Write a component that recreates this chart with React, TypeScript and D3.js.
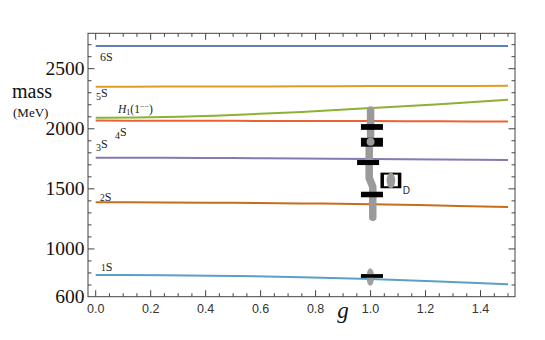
import React from "react";
import * as d3 from "d3";

const gGrid = [0, 0.25, 0.5, 0.75, 1.0, 1.25, 1.5];
const s6S = [2688, 2688, 2688, 2688, 2688, 2688, 2688];
const s5S = [2350, 2351, 2352, 2353, 2355, 2356, 2358];
const sH1 = [2092, 2098, 2115, 2140, 2172, 2205, 2241];
const s4S = [2068, 2067, 2066, 2065, 2064, 2062, 2060];
const s3S = [1759, 1758, 1756, 1753, 1749, 1744, 1740];
const s2S = [1388, 1387, 1384, 1379, 1372, 1361, 1349];
const s1S = [783, 781, 775, 765, 750, 730, 706];

const seriesNames = ["6S", "5S", "H1", "4S", "3S", "2S", "1S"];
const seriesValues = [s6S, s5S, sH1, s4S, s3S, s2S, s1S];
const seriesColors = ["#5E81B5", "#E19C24", "#8FB032", "#EB6235", "#8778B6", "#C56E1A", "#5D9EC7"];

const yTickLabels = [600, 1000, 1500, 2000, 2500];
const xTickLabels = [0, 0.2, 0.4, 0.6, 0.8, 1.0, 1.2, 1.4];

// experimental: grey bands (polylines in g, MeV)
const greyPaths = [
  { g: [1.0, 1.0], m: [2156, 1945] },
  { g: [0.995, 0.995, 1.008, 1.008], m: [1838, 1590, 1518, 1263] },
];
const greyDots = [{ g: 1.0, m: 1892, dm: 33 }, { g: 0.999, m: 766, dm: 73 }];
const blackBars = [
  { g: 1.005, m: 2015, dm: 24 },
  { g: 1.005, m: 1888, dm: 37 },
  { g: 0.991, m: 1719, dm: 21 },
  { g: 1.005, m: 1453, dm: 23 },
  { g: 1.005, m: 775, dm: 14 },
];
const barHalfG = 0.04;
const dBox = { g0: 1.036, g1: 1.112, m: 1570, dm: 65 };

const W = 545, H = 340;
const frame = { l: 88, r: 515, t: 33.3, b: 296.7 };

export default function App() {
  const x = d3.scaleLinear().domain([0, 1.5]).range([95.7, 508]);
  const y = d3.scaleLinear().domain([600, 2500]).range([297, 68.7]);
  const line = d3
    .line<[number, number]>()
    .x((d) => x(d[0]))
    .y((d) => y(d[1]))
    .curve(d3.curveMonotoneX);
  const greyLine = d3
    .line<[number, number]>()
    .x((d) => x(d[0]))
    .y((d) => y(d[1]));

  const yMinor = d3.range(700, 2800, 100);
  const xMinor = d3.range(0, 1.5001, 0.05);
  const isMajorY = (v: number) => v % 500 === 0;
  const isMajorX = (v: number) => Math.abs(v / 0.2 - Math.round(v / 0.2)) < 1e-6;

  const tickColor = "#444";
  const labelFont = "'Liberation Serif', 'Times New Roman', serif";
  const sans = "'Liberation Sans', Arial, sans-serif";

  const lab = (digit: string, kind: "up" | "down" | "small", xx: number, yy: number) => (
    <text x={xx} y={yy} fontFamily={labelFont} fontSize={12} fill="#222">
      {kind === "down" ? (
        <>
          <tspan fontSize={10} dy={3}>{digit}</tspan>
          <tspan dy={-3}>S</tspan>
        </>
      ) : kind === "small" ? (
        <>
          <tspan fontSize={9.5}>{digit}</tspan>
          <tspan>S</tspan>
        </>
      ) : (
        <>
          <tspan>{digit}</tspan>
          <tspan>S</tspan>
        </>
      )}
    </text>
  );

  return (
    <svg width={W} height={H} style={{ position: "absolute", left: 0, top: 0, background: "#fff" }}>
      <rect width={W} height={H} fill="#fff" />
      {/* series lines */}
      {seriesValues.map((vals, i) => (
        <path
          key={seriesNames[i]}
          d={line(gGrid.map((g, j) => [g, vals[j]]) as [number, number][]) || ""}
          fill="none"
          stroke={seriesColors[i]}
          strokeWidth={2}
        />
      ))}
      {/* experimental grey */}
      {greyPaths.map((p, i) => (
        <path
          key={"gp" + i}
          d={greyLine(p.g.map((g, j) => [g, p.m[j]]) as [number, number][]) || ""}
          fill="none"
          stroke="#9a9a9a"
          strokeWidth={7.5}
          strokeLinecap="round"
          strokeLinejoin="round"
        />
      ))}
      {blackBars.map((b, i) => (
        <rect
          key={"bb" + i}
          x={x(b.g - barHalfG)}
          y={y(b.m + b.dm)}
          width={x(b.g + barHalfG) - x(b.g - barHalfG)}
          height={y(b.m - b.dm) - y(b.m + b.dm)}
          fill="#000"
        />
      ))}
      {greyDots.map((d, i) => (
        <ellipse
          key={"gd" + i}
          cx={x(d.g)}
          cy={y(d.m)}
          rx={i === 0 ? 4 : 3.8}
          ry={y(d.m - d.dm) - y(d.m)}
          fill="#9a9a9a"
          opacity={i === 0 ? 1 : 0.95}
        />
      ))}
      {/* redraw 1S black bar over grey ellipse */}
      <rect
        x={x(blackBars[4].g - barHalfG)}
        y={y(blackBars[4].m + blackBars[4].dm)}
        width={x(blackBars[4].g + barHalfG) - x(blackBars[4].g - barHalfG)}
        height={y(blackBars[4].m - blackBars[4].dm) - y(blackBars[4].m + blackBars[4].dm)}
        fill="#000"
      />
      {/* D box */}
      <rect
        x={x(dBox.g0)}
        y={y(dBox.m + dBox.dm)}
        width={x(dBox.g1) - x(dBox.g0)}
        height={y(dBox.m - dBox.dm) - y(dBox.m + dBox.dm)}
        fill="#000"
      />
      <rect
        x={x(dBox.g0) + 3.5}
        y={y(dBox.m + dBox.dm) + 2}
        width={x(dBox.g1) - x(dBox.g0) - 7}
        height={y(dBox.m - dBox.dm) - y(dBox.m + dBox.dm) - 4}
        fill="#fff"
      />
      <ellipse
        cx={(x(dBox.g0) + x(dBox.g1)) / 2}
        cy={y(dBox.m)}
        rx={4.3}
        ry={(y(dBox.m - dBox.dm) - y(dBox.m + dBox.dm)) / 2}
        fill="#9a9a9a"
      />
      <text x={x(dBox.g1) + 1.5} y={193.5} fontFamily={sans} fontSize={10} fill="#222">D</text>

      {/* frame */}
      <rect x={frame.l} y={frame.t} width={frame.r - frame.l} height={frame.b - frame.t} fill="none" stroke={tickColor} strokeWidth={1} />
      {/* y ticks */}
      {yMinor.concat([1000, 1500, 2000, 2500].filter((v) => !yMinor.includes(v))).map((v) => {
        const len = isMajorY(v) ? 6.5 : 3.5;
        return (
          <g key={"yt" + v}>
            <line x1={frame.l} x2={frame.l + len} y1={y(v)} y2={y(v)} stroke={tickColor} strokeWidth={1} />
            <line x1={frame.r} x2={frame.r - len} y1={y(v)} y2={y(v)} stroke={tickColor} strokeWidth={1} />
          </g>
        );
      })}
      {/* x ticks */}
      {xMinor.map((v) => {
        const len = isMajorX(v) ? 6.5 : 3.5;
        return (
          <g key={"xt" + v.toFixed(2)}>
            <line x1={x(v)} x2={x(v)} y1={frame.b} y2={frame.b - len} stroke={tickColor} strokeWidth={1} />
            <line x1={x(v)} x2={x(v)} y1={frame.t} y2={frame.t + len} stroke={tickColor} strokeWidth={1} />
          </g>
        );
      })}
      {/* y tick labels */}
      {yTickLabels.map((v) => (
        <text
          key={"yl" + v}
          x={84.5}
          y={(v === 600 ? frame.b : y(v)) + 6.5}
          textAnchor="end"
          fontFamily={labelFont}
          fontSize={19.5}
          fill="#111"
        >
          {v}
        </text>
      ))}
      {/* x tick labels */}
      {xTickLabels.map((v) => (
        <text key={"xl" + v} x={x(v)} y={313} textAnchor="middle" fontFamily={sans} fontSize={12.5} fill="#333">
          {v.toFixed(1)}
        </text>
      ))}
      {/* axis titles */}
      <text x={343} y={318} textAnchor="middle" fontFamily={labelFont} fontStyle="italic" fontSize={23} fill="#111">g</text>
      <text x={12} y={98} fontFamily={labelFont} fontSize={20} fill="#111">mass</text>
      <text x={13} y={117} fontFamily={labelFont} fontSize={13} fill="#111">(MeV)</text>

      {/* series labels */}
      {lab("6", "up", 100, 61)}
      {lab("5", "down", 96, 97)}
      {lab("4", "down", 115, 136)}
      {lab("3", "down", 96, 148)}
      {lab("2", "small", 100, 201)}
      {lab("1", "small", 101, 271)}
      <text x={118} y={113} fontFamily={labelFont} fontSize={11.5} fill="#222">
        <tspan fontStyle="italic">H</tspan>
        <tspan fontSize={8} dy={2}>1</tspan>
        <tspan dy={-2}>(1</tspan>
        <tspan fontSize={8} dy={-4}>−−</tspan>
        <tspan dy={4}>)</tspan>
      </text>
    </svg>
  );
}
